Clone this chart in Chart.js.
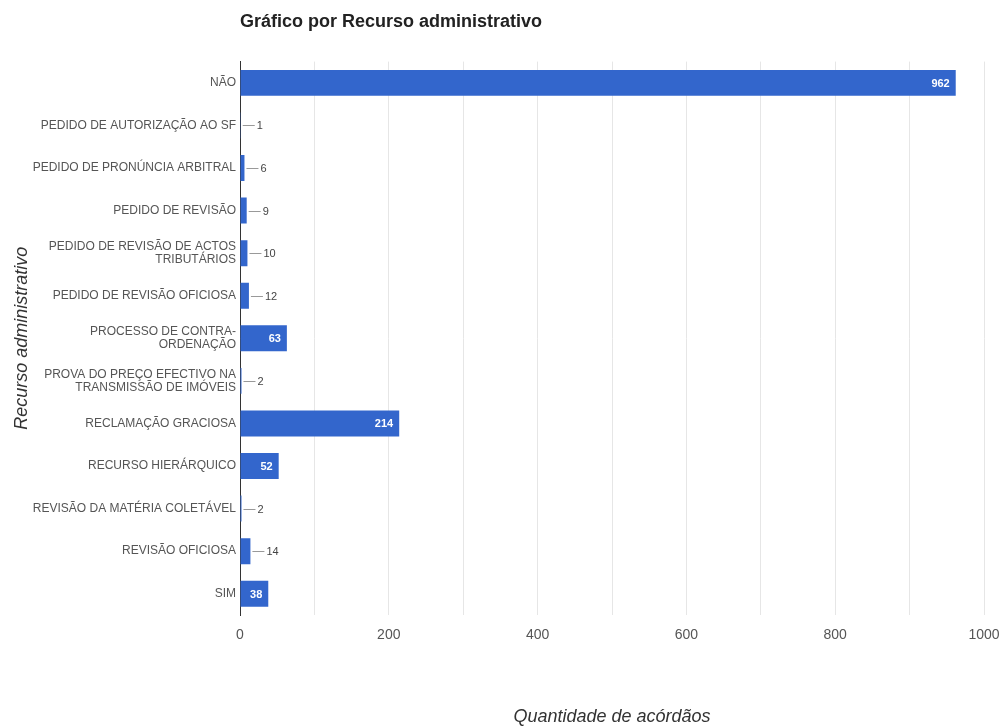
<!DOCTYPE html>
<html>
<head>
<meta charset="utf-8">
<title>Gráfico por Recurso administrativo</title>
<script src="https://cdn.jsdelivr.net/npm/chart.js@4"></script>
<style>
  body { margin: 0; background: #fff; }
  #chart { display: block; }
</style>
</head>
<body>
<canvas id="chart" width="1003" height="728"></canvas>
<script>
const categories = [
  'NÃO',
  'PEDIDO DE AUTORIZAÇÃO AO SF',
  'PEDIDO DE PRONÚNCIA ARBITRAL',
  'PEDIDO DE REVISÃO',
  ['PEDIDO DE REVISÃO DE ACTOS', 'TRIBUTÁRIOS'],
  'PEDIDO DE REVISÃO OFICIOSA',
  ['PROCESSO DE CONTRA-', 'ORDENAÇÃO'],
  ['PROVA DO PREÇO EFECTIVO NA', 'TRANSMISSÃO DE IMÓVEIS'],
  'RECLAMAÇÃO GRACIOSA',
  'RECURSO HIERÁRQUICO',
  'REVISÃO DA MATÉRIA COLETÁVEL',
  'REVISÃO OFICIOSA',
  'SIM'
];
const counts = [962, 1, 6, 9, 10, 12, 63, 2, 214, 52, 2, 14, 38];
const xTicks = [0, 200, 400, 600, 800, 1000];

const barColor = '#3366cc';
const fontFamily = 'Arial, "Liberation Sans", sans-serif';

// value labels: inside the bar when it fits, else outside with a short leader line
const valueLabels = {
  id: 'valueLabels',
  afterDatasetsDraw(chart) {
    const ctx = chart.ctx;
    const meta = chart.getDatasetMeta(0);
    ctx.save();
    ctx.textBaseline = 'middle';
    meta.data.forEach((bar, i) => {
      const text = String(counts[i]);
      const barWidth = bar.x - bar.base;
      ctx.font = 'bold 11px ' + fontFamily;
      const tw = ctx.measureText(text).width;
      if (barWidth > tw + 12) {
        ctx.fillStyle = '#ffffff';
        ctx.textAlign = 'right';
        ctx.fillText(text, bar.x - 6, bar.y + 1);
      } else {
        ctx.strokeStyle = '#999999';
        ctx.lineWidth = 1;
        ctx.beginPath();
        ctx.moveTo(bar.x + 2, Math.round(bar.y) + 0.5);
        ctx.lineTo(bar.x + 14, Math.round(bar.y) + 0.5);
        ctx.stroke();
        ctx.font = '11px ' + fontFamily;
        ctx.fillStyle = '#444444';
        ctx.textAlign = 'left';
        ctx.fillText(text, bar.x + 16, bar.y + 1);
      }
    });
    ctx.restore();
  }
};

new Chart(document.getElementById('chart'), {
  type: 'bar',
  data: {
    labels: categories,
    datasets: [{
      data: counts,
      backgroundColor: barColor,
      borderWidth: 0,
      categoryPercentage: 0.61,
      barPercentage: 1
    }]
  },
  options: {
    indexAxis: 'y',
    responsive: false,
    animation: false,
    devicePixelRatio: 1,
    layout: { padding: { left: 0, right: 19, top: 0, bottom: 0 } },
    plugins: {
      legend: { display: false },
      tooltip: { enabled: false },
      title: {
        display: true,
        text: 'Gráfico por Recurso administrativo',
        align: 'start',
        fullSize: false,
        color: '#222222',
        font: { family: fontFamily, size: 18, weight: 'bold' },
        padding: { top: 11, bottom: 29 }
      }
    },
    scales: {
      x: {
        min: 0,
        max: 1000,
        afterFit(scale) {
          scale.height = 113;
          scale.paddingLeft = 0;
          scale.paddingRight = 0;
        },
        ticks: {
          stepSize: 100,
          autoSkip: false,
          maxRotation: 0,
          padding: 12,
          color: '#555555',
          font: { family: fontFamily, size: 14 },
          callback: (v) => xTicks.includes(v) ? String(v) : ''
        },
        grid: {
          drawTicks: false,
          color: (c) => c.tick && c.tick.value === 0 ? '#333333' : '#e6e6e6'
        },
        border: { display: false },
        title: {
          display: true,
          text: 'Quantidade de acórdãos',
          color: '#333333',
          font: { family: fontFamily, size: 18, style: 'italic' },
          padding: { top: 0, bottom: 0 }
        }
      },
      y: {
        afterFit(scale) { scale.width = 240; },
        ticks: {
          autoSkip: false,
          padding: 4,
          color: '#555555',
          font: { family: fontFamily, size: 12, lineHeight: 1.1 }
        },
        grid: { display: false, drawTicks: false },
        border: { display: true, color: '#333333', width: 1 },
        title: {
          display: true,
          text: 'Recurso administrativo',
          color: '#333333',
          font: { family: fontFamily, size: 18, style: 'italic' },
          padding: { top: 11, bottom: 0 }
        }
      }
    }
  },
  plugins: [valueLabels]
});
</script>
</body>
</html>
